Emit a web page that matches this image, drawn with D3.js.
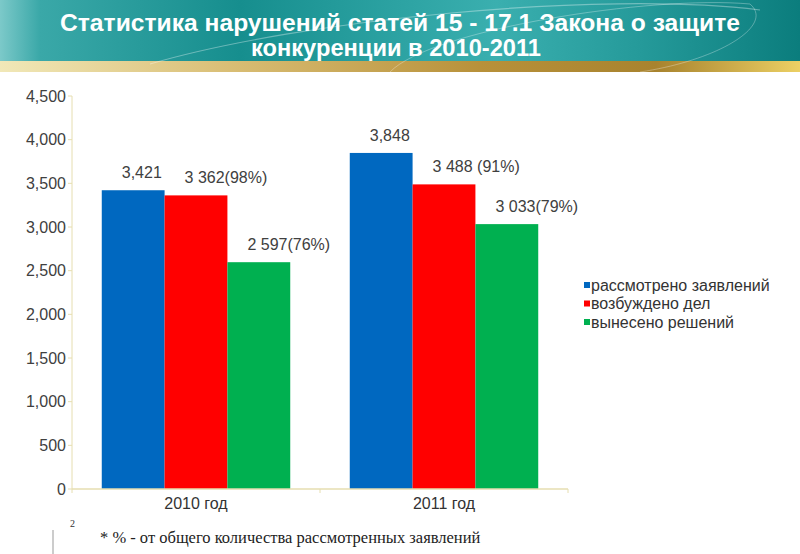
<!DOCTYPE html>
<html>
<head>
<meta charset="utf-8">
<script src="https://cdn.jsdelivr.net/npm/d3@7"></script>
<style>
    body { margin: 0; background: #fff; }
    #chart { width: 800px; height: 554px; }
    text { font-family: "Liberation Sans", Arial, sans-serif; }
</style>
</head>
<body>
<div id="chart"></div>
<script>
// chart data
const categories = ["2010 год", "2011 год"];
const seriesNames = ["рассмотрено заявлений", "возбуждено дел", "вынесено решений"];
const consideredValues = [3421, 3848];
const initiatedValues = [3362, 3488];
const decidedValues = [2597, 3033];
const consideredLabels = ["3,421", "3,848"];
const initiatedLabels = ["3 362(98%)", "3 488 (91%)"];
const decidedLabels = ["2 597(76%)", "3 033(79%)"];
const yTickValues = [0, 500, 1000, 1500, 2000, 2500, 3000, 3500, 4000, 4500];
const titleLines = ["Статистика нарушений статей 15 - 17.1 Закона о защите", "конкуренции в 2010-2011"];
const footnote = "* % - от общего количества рассмотренных заявлений";

const seriesColors = ["#0068c0", "#ff0000", "#00b050"];

class barVis {
    constructor(parentElement) {
        this.parentElement = parentElement;
        this.initVis();
    }

    initVis() {
        let vis = this;

        vis.svg = d3.select("#" + vis.parentElement)
            .append("svg")
            .attr("width", 800)
            .attr("height", 554);

        vis.drawHeader();

        vis.margin = {top: 96, left: 72, right: 232, bottom: 65};
        vis.width = 800 - vis.margin.left - vis.margin.right;
        vis.height = 554 - vis.margin.top - vis.margin.bottom;

        vis.g = vis.svg.append("g")
            .attr("transform", `translate(${vis.margin.left}, ${vis.margin.top})`);

        vis.x0 = d3.scaleBand()
            .domain(categories)
            .range([0, vis.width])
            .paddingInner(0)
            .paddingOuter(0);

        vis.x1 = d3.scaleBand()
            .domain(d3.range(seriesNames.length))
            .range([vis.x0.bandwidth() * 0.12, vis.x0.bandwidth() * 0.88]);

        vis.y = d3.scaleLinear()
            .domain([0, 4500])
            .range([vis.height, 0]);

        vis.wrangleData();
    }

    drawHeader() {
        let vis = this;
        let defs = vis.svg.append("defs");

        let teal = defs.append("linearGradient").attr("id", "teal");
        [["0%", "#7cc9c9"], ["5%", "#3aa8a8"], ["30%", "#168e8e"], ["62%", "#3aafaf"], ["80%", "#259a9a"], ["100%", "#0b7d7d"]]
            .forEach(s => teal.append("stop").attr("offset", s[0]).attr("stop-color", s[1]));

        let gold = defs.append("linearGradient").attr("id", "gold");
        [["0%", "#f1e8b8"], ["30%", "#d8bc72"], ["60%", "#b8913a"], ["82%", "#a8832e"], ["100%", "#ecd064"]]
            .forEach(s => gold.append("stop").attr("offset", s[0]).attr("stop-color", s[1]));

        vis.svg.append("rect").attr("x", 0).attr("y", 0).attr("width", 800).attr("height", 61).attr("fill", "url(#teal)");
        vis.svg.append("rect").attr("x", 0).attr("y", 61).attr("width", 800).attr("height", 11).attr("fill", "url(#gold)");

        // decorative arcs
        vis.svg.append("path")
            .attr("d", "M 150 64 C 300 20, 600 -10, 760 10")
            .attr("fill", "none").attr("stroke", "rgba(255,255,255,0.35)").attr("stroke-width", 1.2);
        vis.svg.append("path")
            .attr("d", "M 390 72 C 430 30, 650 -5, 750 4 C 775 25, 720 60, 640 72")
            .attr("fill", "none").attr("stroke", "rgba(255,255,255,0.3)").attr("stroke-width", 1);

        vis.svg.selectAll(".title")
            .data(titleLines)
            .enter()
            .append("text")
            .attr("class", "title")
            .attr("x", (d, i) => i === 0 ? 400 : 396)
            .attr("y", (d, i) => 31 + i * 25)
            .attr("text-anchor", "middle")
            .attr("textLength", (d, i) => i === 0 ? 680 : 290)
            .attr("lengthAdjust", "spacingAndGlyphs")
            .style("font-size", "24px")
            .style("font-weight", "bold")
            .style("fill", "#fff")
            .text(d => d);
    }

    wrangleData() {
        let vis = this;

        vis.displayData = categories.map((c, i) => ({
            category: c,
            bars: [
                {series: 0, value: consideredValues[i], label: consideredLabels[i]},
                {series: 1, value: initiatedValues[i], label: initiatedLabels[i]},
                {series: 2, value: decidedValues[i], label: decidedLabels[i]}
            ]
        }));

        vis.updateVis();
    }

    updateVis() {
        let vis = this;
        let axisColor = "#e6deb0";

        // y axis
        let yAxis = vis.g.append("g").attr("class", "y-axis");
        yAxis.append("line")
            .attr("x1", 0).attr("x2", 0)
            .attr("y1", 0).attr("y2", vis.height)
            .attr("stroke", axisColor);
        let yt = yAxis.selectAll(".tick")
            .data(yTickValues)
            .enter()
            .append("g")
            .attr("transform", d => `translate(0, ${vis.y(d)})`);
        yt.append("line").attr("x1", -4).attr("x2", 0).attr("stroke", axisColor);
        yt.append("text")
            .attr("x", -6)
            .attr("dy", "0.35em")
            .attr("text-anchor", "end")
            .style("font-size", "16px")
            .style("fill", "#404040")
            .text(d => d3.format(",")(d));

        // bars
        let groups = vis.g.selectAll(".group")
            .data(vis.displayData)
            .enter()
            .append("g")
            .attr("transform", d => `translate(${vis.x0(d.category)}, 0)`);

        groups.selectAll("rect")
            .data(d => d.bars)
            .enter()
            .append("rect")
            .attr("x", d => vis.x1(d.series))
            .attr("y", d => vis.y(d.value))
            .attr("width", vis.x1.bandwidth())
            .attr("height", d => vis.height - vis.y(d.value))
            .attr("fill", d => seriesColors[d.series]);

        groups.selectAll(".value")
            .data(d => d.bars)
            .enter()
            .append("text")
            .attr("class", "value")
            .attr("x", d => vis.x1(d.series) + 20)
            .attr("y", d => vis.y(d.value) - 12)
            .style("font-size", "16px")
            .style("fill", "#404040")
            .text(d => d.label);

        // x axis
        let xAxis = vis.g.append("g").attr("transform", `translate(0, ${vis.height})`);
        xAxis.append("line")
            .attr("x1", 0).attr("x2", vis.width)
            .attr("stroke", axisColor).attr("stroke-width", 1.5);
        xAxis.selectAll(".xtick")
            .data([0, 1, 2])
            .enter()
            .append("line")
            .attr("x1", d => d * vis.x0.bandwidth())
            .attr("x2", d => d * vis.x0.bandwidth())
            .attr("y1", 0).attr("y2", 4)
            .attr("stroke", axisColor);
        xAxis.selectAll(".xlabel")
            .data(categories)
            .enter()
            .append("text")
            .attr("x", d => vis.x0(d) + vis.x0.bandwidth() / 2)
            .attr("y", 20)
            .attr("text-anchor", "middle")
            .style("font-size", "16px")
            .style("fill", "#333")
            .text(d => d);

        // legend
        let legend = vis.svg.append("g").attr("transform", "translate(584, 285)");
        let items = legend.selectAll(".item")
            .data(seriesNames)
            .enter()
            .append("g")
            .attr("transform", (d, i) => `translate(0, ${i * 18.5})`);
        items.append("rect")
            .attr("x", 0).attr("y", -3)
            .attr("width", 6).attr("height", 6)
            .attr("fill", (d, i) => seriesColors[i]);
        items.append("text")
            .attr("x", 7)
            .attr("dy", "0.35em")
            .style("font-size", "16px")
            .style("fill", "#333")
            .text(d => d);

        // footer
        vis.svg.append("line")
            .attr("x1", 53).attr("x2", 53).attr("y1", 530).attr("y2", 554)
            .attr("stroke", "#999").attr("stroke-width", 1);
        vis.svg.append("text")
            .attr("x", 70).attr("y", 527)
            .style("font-family", "'Liberation Serif', 'Times New Roman', serif")
            .style("font-size", "10px")
            .style("fill", "#333")
            .text("2");
        vis.svg.append("text")
            .attr("x", 100).attr("y", 543)
            .style("font-family", "'Liberation Serif', 'Times New Roman', serif")
            .style("font-size", "16.5px")
            .style("fill", "#222")
            .text(footnote);
    }
}

new barVis("chart");
</script>
</body>
</html>
